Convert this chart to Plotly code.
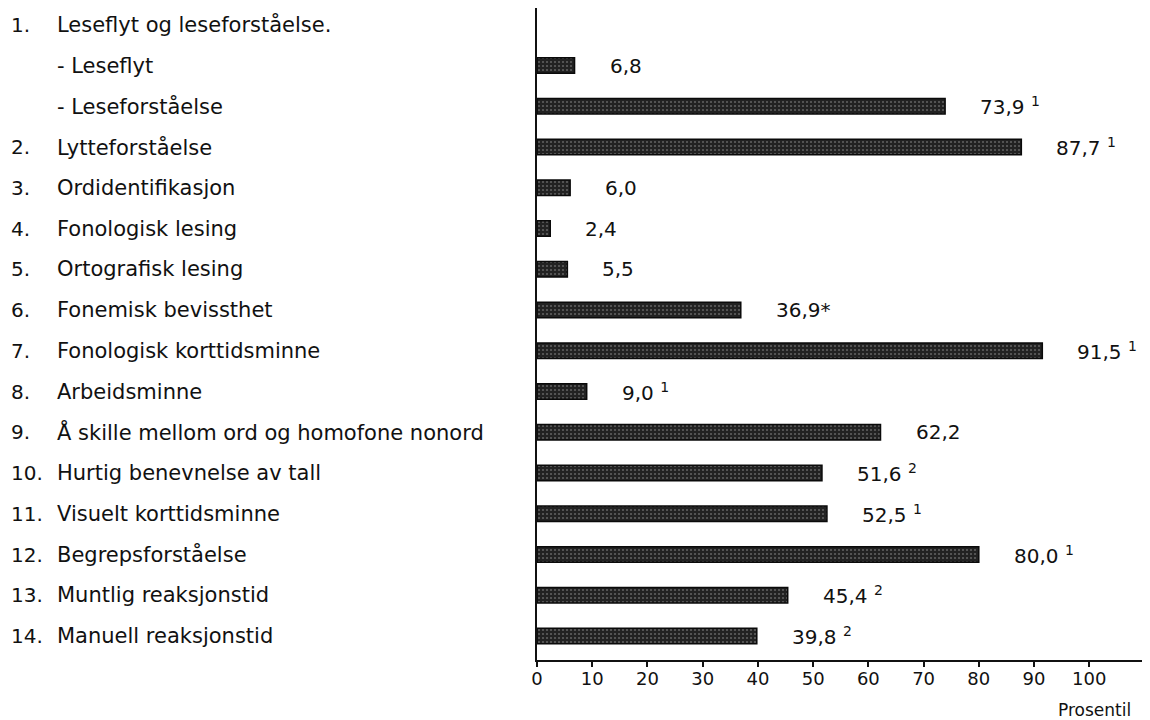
import plotly.graph_objects as go

# ---- data ----
numbers = ["1.", "", "", "2.", "3.", "4.", "5.", "6.", "7.", "8.", "9.",
           "10.", "11.", "12.", "13.", "14."]
names = ["Leseflyt og leseforståelse.", "- Leseflyt", "- Leseforståelse",
         "Lytteforståelse", "Ordidentifikasjon", "Fonologisk lesing",
         "Ortografisk lesing", "Fonemisk bevissthet", "Fonologisk korttidsminne",
         "Arbeidsminne", "Å skille mellom ord og homofone nonord",
         "Hurtig benevnelse av tall", "Visuelt korttidsminne",
         "Begrepsforståelse", "Muntlig reaksjonstid", "Manuell reaksjonstid"]
values = [None, 6.8, 73.9, 87.7, 6.0, 2.4, 5.5, 36.9, 91.5, 9.0, 62.2,
          51.6, 52.5, 80.0, 45.4, 39.8]
notes = ["", "", "1", "1", "", "", "", "*", "1", "1", "", "2", "1", "1", "2", "2"]
tick_vals = [0, 10, 20, 30, 40, 50, 60, 70, 80, 90, 100]
x_title = "Prosentil"

FONT = "DejaVu Sans"
INK = "#111111"
# the page body has an 8 px default margin, so the figure is sized to fit the window
FIG_W, FIG_H = 1142, 712
LEFT = 529

fig = go.Figure()
fig.add_trace(go.Bar(
    x=values, y=names, orientation="h", width=0.38,
    marker=dict(color="#222222",
                line=dict(color="#0a0a0a", width=1.5),
                pattern=dict(shape=".", fgcolor="#9c9c9c", bgcolor="#222222",
                             size=4, solidity=0.22)),
    hoverinfo="skip", showlegend=False,
))

annotations = []
for num, name, v, note in zip(numbers, names, values, notes):
    if num:
        annotations.append(dict(xref="paper", yref="y", x=0, y=name,
                                xshift=-(LEFT - 1), xanchor="left", yanchor="middle",
                                text=num, showarrow=False,
                                font=dict(family=FONT, size=20, color=INK)))
    annotations.append(dict(xref="paper", yref="y", x=0, y=name,
                            xshift=-(LEFT - 47), xanchor="left", yanchor="middle",
                            text=name, showarrow=False,
                            font=dict(family=FONT, size=21, color=INK)))
    if v is not None:
        label = f"{v:.1f}".replace(".", ",")
        if note == "*":
            label += "*"
        elif note:
            label += f" <sup>{note}</sup>"
        annotations.append(dict(xref="x", yref="y", x=v, y=name, xshift=33,
                                xanchor="left", yanchor="middle", text=label,
                                showarrow=False,
                                font=dict(family=FONT, size=20, color=INK)))

annotations.append(dict(xref="paper", yref="paper", x=0.972, y=-0.077,
                        xanchor="right", yanchor="middle", text=x_title,
                        showarrow=False, font=dict(family=FONT, size=17, color=INK)))

fig.update_layout(
    width=FIG_W, height=FIG_H,
    margin=dict(l=LEFT, r=0, t=0, b=60),
    paper_bgcolor="white", plot_bgcolor="white",
    font=dict(family=FONT, color=INK),
    annotations=annotations,
    xaxis=dict(range=[0, 111], tickvals=tick_vals, ticks="outside", ticklen=5,
               tickwidth=1.5, tickcolor="#111", showline=True, linecolor="#111",
               linewidth=2, showgrid=False, zeroline=False, ticklabelstandoff=-4,
               tickfont=dict(family=FONT, size=18, color=INK)),
    yaxis=dict(categoryorder="array", categoryarray=names,
               range=[len(names) - 1 + 0.589, -0.411],
               showticklabels=False, ticks="", showline=True,
               linecolor="#111", linewidth=2, showgrid=False, zeroline=False),
)

fig.write_html("out.html")
